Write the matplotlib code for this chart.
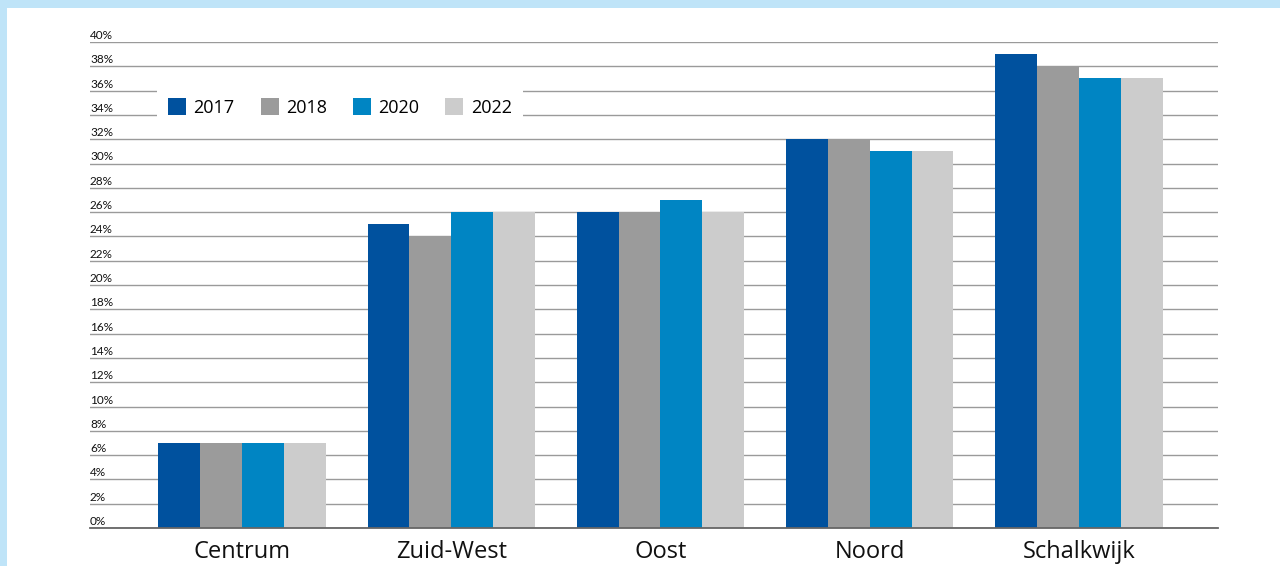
import matplotlib
matplotlib.use("Agg")
import matplotlib.pyplot as plt
import matplotlib.transforms as mtrans
from matplotlib.patches import Rectangle
import numpy as np

categories = ["Centrum", "Zuid-West", "Oost", "Noord", "Schalkwijk"]
years = ["2017", "2018", "2020", "2022"]
v2017 = [7, 25, 26, 32, 39]
v2018 = [7, 24, 26, 32, 38]
v2020 = [7, 26, 27, 31, 37]
v2022 = [7, 26, 26, 31, 37]
series = [v2017, v2018, v2020, v2022]
colors = ["#00519e", "#9b9b9b", "#0085c3", "#cccccc"]
yticks = list(range(0, 41, 2))
ytick_labels = [f"{t}%" for t in yticks]

plt.rcParams['font.family'] = ['Open Sans', 'DejaVu Sans']

fig = plt.figure(figsize=(12.8, 5.66), dpi=100)
fig.patch.set_facecolor("white")
W, H = 1280, 566
fig.patches.append(Rectangle((0, 1 - 8 / H), 1, 8 / H, transform=fig.transFigure,
                             facecolor="#bfe4f8", edgecolor="none", zorder=0))
fig.patches.append(Rectangle((0, 0), 7 / W, 1, transform=fig.transFigure,
                             facecolor="#bfe4f8", edgecolor="none", zorder=0))

ax = fig.add_axes([90 / W, 1 - 528 / H, (1218 - 90) / W, (528 - 42) / H])
x = np.arange(len(categories))
bw = 0.2
for i, (vals, col, yr) in enumerate(zip(series, colors, years)):
    ax.bar(x + (i - 1.5) * bw, vals, width=bw, color=col, label=yr, zorder=3)

ax.set_xlim(-0.727, 4.665)
ax.set_ylim(0, 40)
ax.set_yticks(yticks)
ax.set_yticklabels(ytick_labels, ha="left", va="bottom", fontsize=8.5,
                   color="#111111", family=['Lato', 'DejaVu Sans'])
ax.tick_params(axis="y", length=0, pad=0)
offset = mtrans.ScaledTranslation(0, 1.0 / 100, fig.dpi_scale_trans)
for lbl in ax.get_yticklabels():
    lbl.set_transform(lbl.get_transform() + offset)

ax.set_xticks(x)
ax.set_xticklabels(categories, fontsize=17, color="#111111")
ax.tick_params(axis="x", length=0, pad=8.5)

ax.grid(axis="y", color="#9a9a9a", linewidth=1.0, zorder=1)
for s in ["top", "right", "left"]:
    ax.spines[s].set_visible(False)
ax.spines["bottom"].set_color("#666666")
ax.spines["bottom"].set_linewidth(1.3)
ax.spines["bottom"].set_zorder(4)

leg = ax.legend(loc="center", bbox_to_anchor=(0.2215, 0.866), ncol=4, frameon=True,
                fontsize=13, handlelength=1.0, handleheight=1.1, handletextpad=0.4,
                columnspacing=1.45, borderpad=0.6, fancybox=False)
leg.get_frame().set_facecolor("white")
leg.get_frame().set_edgecolor("none")
leg.get_frame().set_alpha(1)
leg.set_zorder(5)

fig.savefig("out.png", dpi=100, facecolor="white")
